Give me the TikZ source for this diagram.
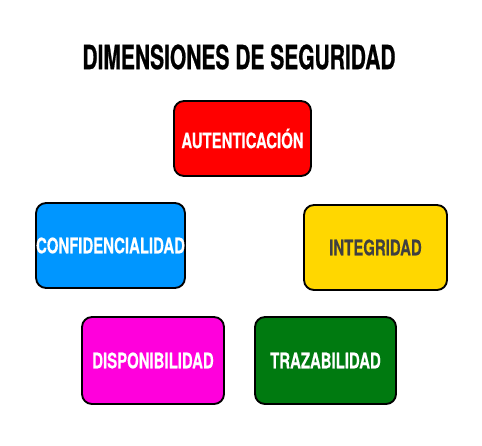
\documentclass[tikz,border=0pt]{standalone}
\usepackage{xcolor}
\usepackage{fontspec}
\usepackage{tikz}
\setmainfont{TeX Gyre Heros}
\newfontfamily\titlefont{TeX Gyre Heros}[FakeStretch=0.63,FakeBold=0.6]
\newfontfamily\boxfont{TeX Gyre Heros}[FakeStretch=0.70,FakeBold=0.3]

\definecolor{rojoAut}{RGB}{255,0,0}
\definecolor{azulConf}{RGB}{0,150,255}
\definecolor{amarilloInt}{RGB}{255,215,0}
\definecolor{magentaDisp}{RGB}{255,0,220}
\definecolor{verdeTraz}{RGB}{0,122,16}
\definecolor{grisTexto}{RGB}{64,64,64}

\tikzset{
  dimbox/.style={draw=black, line width=1.4pt, rounded corners=7.5pt, font=\boxfont\bfseries\fontsize{16}{18}\selectfont, inner sep=0pt}
}

\begin{document}
\begin{tikzpicture}[x=0.75pt,y=0.75pt,yscale=-1,xscale=1]
        \useasboundingbox (0,0) rectangle (482,446);

        %Text: title
        \node (titulo) at (239,57) {\titlefont\bfseries\fontsize{25}{28}\selectfont DIMENSIONES DE SEGURIDAD};

        %Shape: Rounded Rectangle [id:autenticacion]
        \node[dimbox, fill=rojoAut, text=white, minimum width=102.75pt, minimum height=56.25pt] (aut) at (242.5,138.5) {AUTENTICACIÓN};
        %Shape: Rounded Rectangle [id:confidencialidad]
        \node[dimbox, fill=azulConf, text=white, minimum width=110.25pt, minimum height=63.75pt] (conf) at (110.5,245.5) {CONFIDENCIALIDAD};
        %Shape: Rounded Rectangle [id:integridad]
        \node[dimbox, fill=amarilloInt, text=grisTexto, minimum width=107.25pt, minimum height=63.75pt] (integ) at (375.5,247.5) {INTEGRIDAD};
        %Shape: Rounded Rectangle [id:disponibilidad]
        \node[dimbox, fill=magentaDisp, text=white, minimum width=106.5pt, minimum height=65.25pt] (disp) at (153,360.5) {DISPONIBILIDAD};
        %Shape: Rounded Rectangle [id:trazabilidad]
        \node[dimbox, fill=verdeTraz, text=white, minimum width=105.75pt, minimum height=65.25pt] (traz) at (325.5,360.5) {TRAZABILIDAD};
\end{tikzpicture}
\end{document}
